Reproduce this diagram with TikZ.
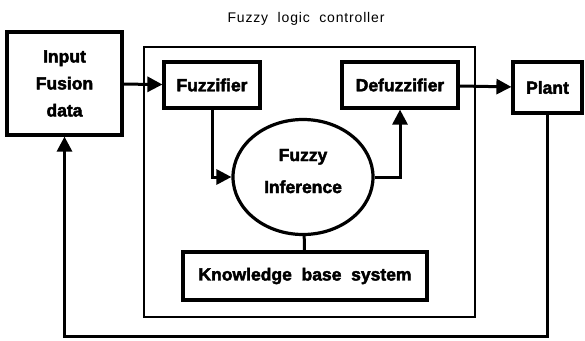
\documentclass[tikz,border=0pt]{standalone}
\usepackage{fontspec}
\setmainfont{Liberation Sans}
\newfontfamily\boxfont[FakeBold=2.5]{Liberation Sans Bold}
\newfontfamily\titlefont[LetterSpace=6]{Liberation Sans}
\usetikzlibrary{positioning}
\usetikzlibrary{arrows.meta}
\usetikzlibrary{shapes.geometric}

\begin{document}
\begin{tikzpicture}[x=1pt,y=-1pt,
        >={Triangle[length=15pt,width=15pt]},
        block/.style = {draw, line width=3.2pt, inner sep=0pt, align=center,
          font=\boxfont\fontsize{17.5}{27}\selectfont},
        flow/.style = {line width=3pt}
        ]
        \useasboundingbox (0,0) rectangle (585,340);
        \node (title) at (306,19) {\titlefont\fontsize{14}{16}\selectfont Fuzzy\ \ logic\ \ controller};
        \draw[line width=1.3pt] (144,47) rectangle (475,317);
        \node[block, minimum width=115pt, minimum height=103pt] (input) at (64.5,83.5) {Input\\Fusion\\data};
        \node[block, minimum width=96pt, minimum height=46pt] (fuzz) at (212,85) {Fuzzifier};
        \node[block, minimum width=116pt, minimum height=46pt] (defuzz) at (400,85) {Defuzzifier};
        \node[block, minimum width=69pt, minimum height=51pt] (plant) at (547.5,87.5) {Plant};
        \node[block, ellipse, minimum width=140pt, minimum height=115pt, text depth=12pt,
          font=\boxfont\fontsize{17.5}{32}\selectfont] (infer) at (303,177) {Fuzzy\\Inference};
        \node[block, minimum width=244pt, minimum height=48pt] (kb) at (305,276) {Knowledge\ \ base\ \ system};
        \coordinate (fb) at (305,336);
        \draw[flow, ->] (input) -- (fuzz);
        \draw[flow, ->] (defuzz) -- (plant);
        \draw[flow, ->] (fuzz) |- (infer);
        \draw[flow, ->] (infer) -| (defuzz);
        \draw[flow] (infer) -- (kb);
        \draw[flow, ->] (plant) |- (fb) -| (input);
\end{tikzpicture}
\end{document}
